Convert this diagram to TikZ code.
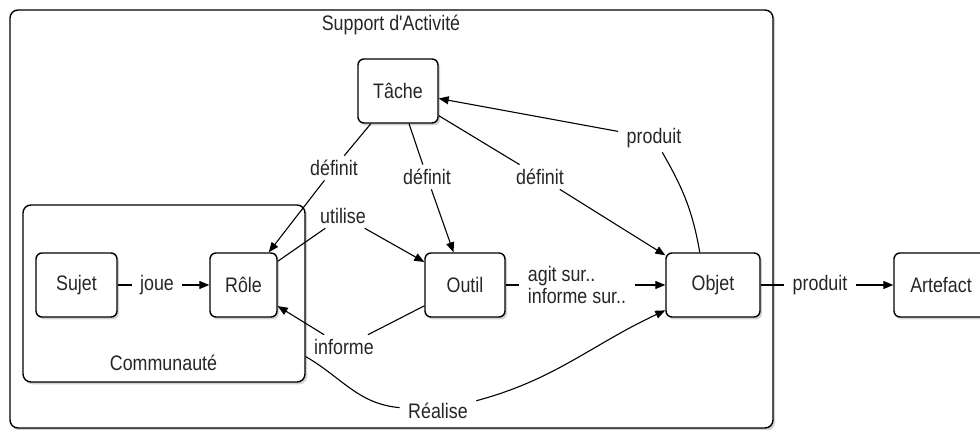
\documentclass[tikz,border=0pt]{standalone}
\usepackage{fontspec}
\setmainfont[FakeStretch=0.85, Ligatures=TeXOff]{Liberation Sans}
\usetikzlibrary{arrows.meta,shadows,positioning}

\begin{document}
\begin{tikzpicture}[x=1pt, y=1pt, line width=1.1pt, >={Triangle[length=10pt,width=8pt]},
    font=\fontsize{21}{22}\selectfont, text=black!85,
    box/.style = {draw, fill=white, rounded corners=6pt, minimum height=64pt, inner sep=0pt, line width=1.4pt,
                  drop shadow={shadow xshift=2pt, shadow yshift=-2.5pt, opacity=0.35}},
    group/.style = {draw, fill=white, rounded corners=8pt, inner sep=0pt, line width=1.4pt,
                    drop shadow={shadow xshift=2pt, shadow yshift=-2.5pt, opacity=0.35}},
    lbl/.style = {inner xsep=8pt, inner ysep=4pt}]
    \useasboundingbox (0,0) rectangle (980,430);
    % cadres
    \node[group, minimum width=763pt, minimum height=418pt] (support) at (391.5,211) {};
    \node (titre) at (391,405) {Support d'Activité};
    \node[group, minimum width=282pt, minimum height=177pt] (comm) at (164,136.5) {};
    \node (commlbl) at (163.5,67) {Communauté};
    % entites
    \node[box, minimum width=80pt] (tache) at (398,339) {Tâche};
    \node[box, minimum width=81pt] (sujet) at (76.5,145) {Sujet};
    \node[box, minimum width=67pt] (role) at (243.5,145) {Rôle};
    \node[box, minimum width=80pt] (outil) at (465,145) {Outil};
    \node[box, minimum width=94pt] (objet) at (713,145) {Objet};
    \node[box, minimum width=94pt] (artefact) at (941,145) {Artefact};
    % etiquettes
    \node[lbl] (joue) at (157,145) {joue};
    \node[lbl] (def1) at (334,262) {définit};
    \node[lbl] (def2) at (427,253) {définit};
    \node[lbl] (def3) at (540,253) {définit};
    \node[lbl] (util) at (343,214) {utilise};
    \node[lbl] (inf) at (344,83) {informe};
    \node[lbl, align=left] (agit) at (577,145) {agit sur..\\informe sur..};
    \node[lbl] (prod1) at (820,145) {produit};
    \node[lbl] (prod2) at (654,292) {produit};
    \node[lbl] (real) at (438,19) {Réalise};
    % liens
    \draw[->] (sujet) -- (joue) -- (role);
    \draw[->] (tache) -- (def1) -- (role);
    \draw[->] (tache) -- (def2) -- (outil);
    \draw[->] (tache) -- (def3) -- (objet);
    \draw[->] (role) -- (util) -- (outil);
    \draw[->] (outil) -- (inf) -- (role);
    \draw[->] (outil) -- (agit) -- (objet);
    \draw[->] (objet) -- (prod1) -- (artefact);
    \draw[->] (objet.112) to[out=100,in=-60] (prod2) -- (tache);
    \draw[->] (comm.-24) to[out=-30,in=175] (real) to[out=15,in=-155] (objet.-152);
\end{tikzpicture}
\end{document}
